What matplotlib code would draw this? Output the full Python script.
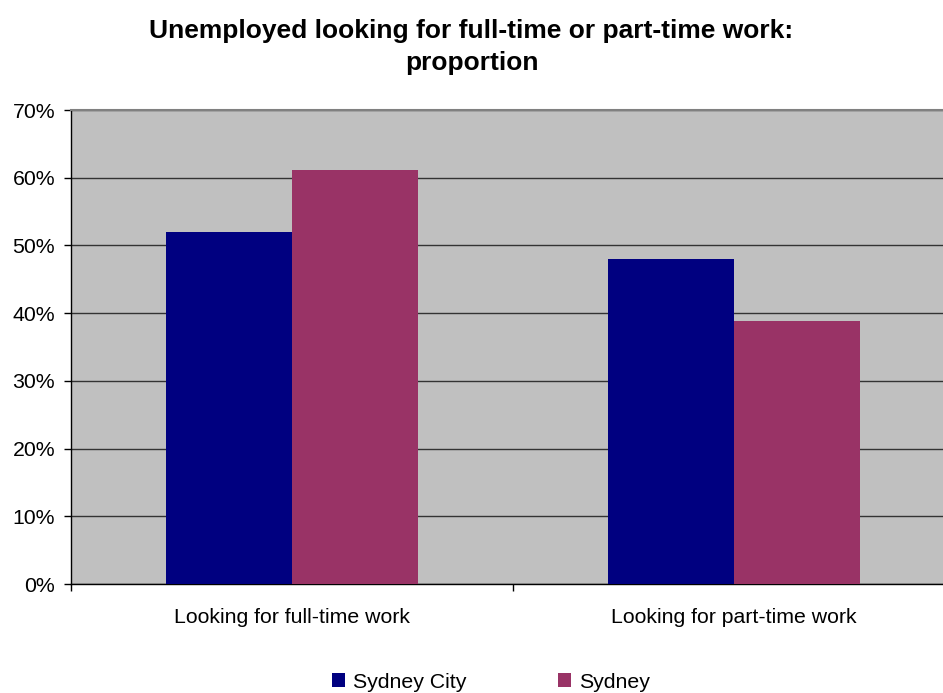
import numpy as np
import matplotlib.pyplot as plt
from matplotlib.ticker import PercentFormatter, FixedLocator

categories = ['Looking for full-time work', 'Looking for part-time work']
sydney_city = [52.0, 48.0]
sydney = [61.1, 38.8]

plt.rcParams['font.family'] = ['Liberation Sans', 'DejaVu Sans']

fig = plt.figure(figsize=(9.43, 6.93), dpi=100)
W, H = 943, 693
# plot area runs past the right edge as in the original
ax = fig.add_axes([71 / W, (H - 584) / H, 884 / W, 474 / H])
ax.set_facecolor('#C0C0C0')

x = np.arange(len(categories))
bw = 0.285
b1 = ax.bar(x - bw / 2, sydney_city, bw, color='#000080', label='Sydney City', zorder=3)
b2 = ax.bar(x + bw / 2, sydney, bw, color='#993366', label='Sydney', zorder=3)

ax.set_xlim(-0.5, 1.5)
ax.set_ylim(0, 70)
ax.yaxis.set_major_locator(FixedLocator(np.arange(0, 71, 10)))
ax.yaxis.set_major_formatter(PercentFormatter(decimals=0))
ax.grid(axis='y', color='#333333', linewidth=1, zorder=1)
ax.set_axisbelow(True)

ax.set_xticks(x)
ax.set_xticklabels(categories)
ax.xaxis.set_minor_locator(FixedLocator([-0.5, 0.5, 1.5]))
ax.tick_params(axis='x', which='major', length=0, pad=17, labelsize=15.3)
ax.tick_params(axis='x', which='minor', length=5, width=1, direction='out')
ax.tick_params(axis='y', length=5, width=1, direction='out', labelsize=15.3, pad=6.5)

for s in ['left', 'bottom']:
    ax.spines[s].set_color('black')
    ax.spines[s].set_linewidth(1)
ax.spines['top'].set_color('#808080')
ax.spines['top'].set_linewidth(1.5)
ax.spines['right'].set_visible(False)

fig.suptitle('Unemployed looking for full-time or part-time work:\nproportion',
             fontsize=19, fontweight='bold', y=0.972, linespacing=1.4)

fig.legend(handles=[b1, b2], loc='upper left', bbox_to_anchor=(323 / W, 1 - 664 / H),
           ncol=2, frameon=False, fontsize=15.3, handlelength=0.65, handleheight=0.65,
           handletextpad=0.35, columnspacing=4.3, borderaxespad=0)

fig.savefig('out.png', dpi=100)
